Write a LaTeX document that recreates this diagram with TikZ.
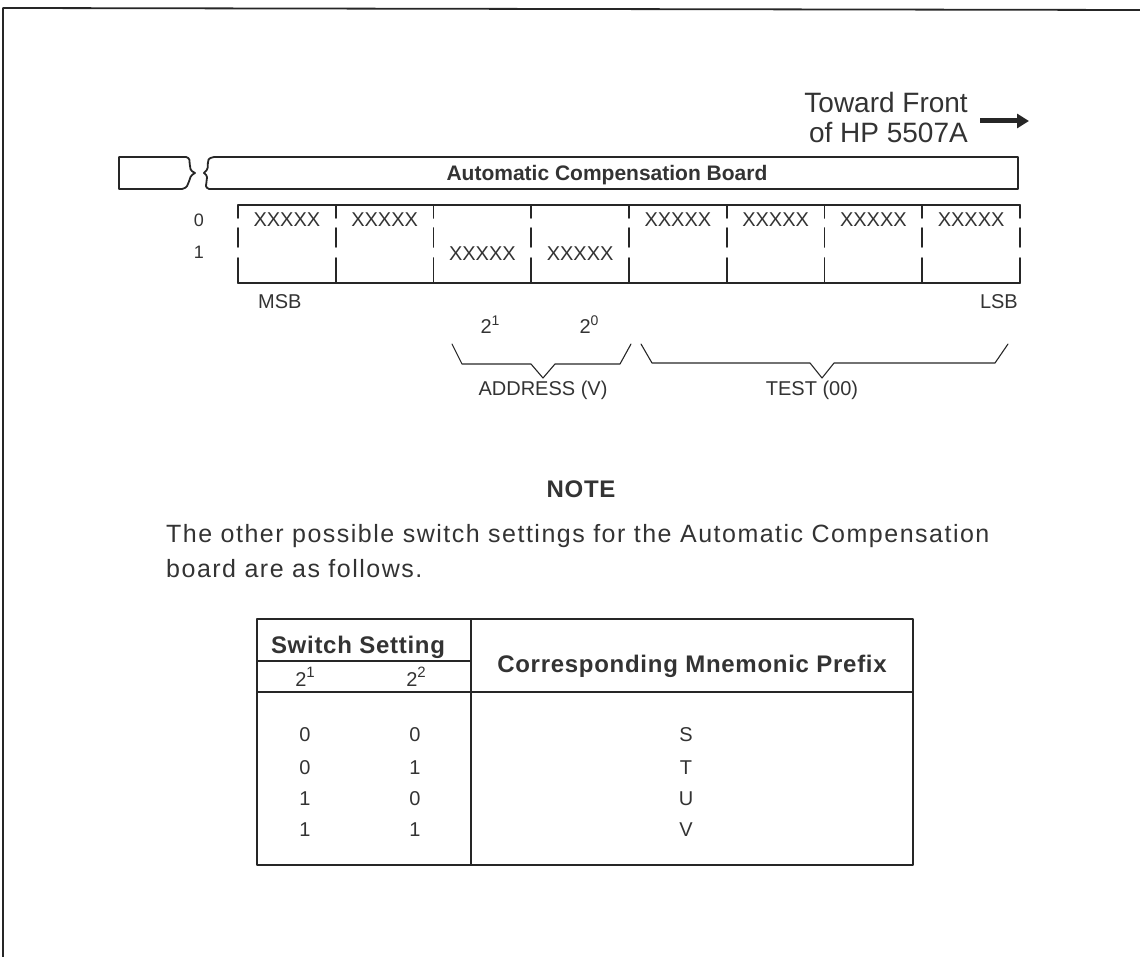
\documentclass[tikz,border=0pt]{standalone}
\usepackage{fontspec}
\setmainfont{Liberation Sans}
\newfontfamily\spacedfont[LetterSpace=6]{Liberation Sans}
\newfontfamily\spacedbold[LetterSpace=3]{Liberation Sans Bold}
\usetikzlibrary{arrows.meta}
\begin{document}
\begin{tikzpicture}[x=1pt,y=-1pt,line join=round,line cap=round,
  frame/.style={line width=1.8pt,draw=black!85},
  thinline/.style={line width=1.1pt,draw=black!85},
  txt/.style={inner sep=0pt,anchor=base,text=black!80},
  fbig/.style={font=\fontsize{28}{30}\selectfont},
  fbody/.style={font=\spacedfont\fontsize{25}{27}\selectfont},
  fmid/.style={font=\fontsize{20}{22}\selectfont},
  fsmall/.style={font=\fontsize{18}{20}\selectfont},
  fbold/.style={font=\fontsize{21}{23}\selectfont\bfseries},
  fbolder/.style={font=\spacedbold\fontsize{24}{26}\selectfont}]
\useasboundingbox (0,0) rectangle (1140,957);

% outer frame
\draw[frame] (3,957) -- (3,8) -- (1140,10);

% Toward front
\node (tf1) [txt,fbig,anchor=base east] at (968,113) {Toward Front};
\node (tf2) [txt,fbig,anchor=base east] at (968,143) {of HP 5507A};
\coordinate (arrS) at (980,121);
\coordinate (arrE) at (1029,121);
\draw[line width=5pt,line cap=butt,black!85,-{Triangle[length=12pt,width=14pt]}] (arrS) -- (arrE);

% board pieces
\draw[frame] (186,157) -- (119,157) -- (119,189) -- (182,189)
  .. controls (192,187) and (186,177) .. (195,173)
  .. controls (185,169) and (194,159) .. (186,157);
\draw[frame] (214,157) -- (1018,157) -- (1018,189) -- (209,189)
  .. controls (201,186) and (212,178) .. (204,173)
  .. controls (213,166) and (202,159) .. (214,157);
\node (board) [txt,fbold] at (607,181) {Automatic Compensation Board};

% switch block
\draw[frame] (238,205) -- (1020,205);
\draw[frame] (238,283) -- (1020,283);
\foreach \i in {0,...,8}{
  \pgfmathsetmacro\xv{238+\i*97.75}
  \draw[frame] (\xv,205) -- (\xv,218) (\xv,228) -- (\xv,247) (\xv,258) -- (\xv,283);
}
\node (r0) [txt,fsmall] at (199,227) {0};
\node (r1) [txt,fsmall] at (199,259) {1};
\foreach \i/\yy/\nm in {0/227/a,1/227/b,2/261/c,3/261/d,4/227/e,5/227/f,6/227/g,7/227/h}{
  \pgfmathsetmacro\xc{238+(\i+0.5)*97.75}
  \node (sw\nm) [txt,fmid] at (\xc,\yy) {XXXXX};
}
\node (msb) [txt,fmid,anchor=base west] at (258,309) {MSB};
\node (lsb) [txt,fmid,anchor=base east] at (1018,309) {LSB};
\node (p21) [txt,fmid] at (490,334) {2\raisebox{0.42em}{\fontsize{14}{14}\selectfont 1}};
\node (p20) [txt,fmid] at (589,334) {2\raisebox{0.42em}{\fontsize{14}{14}\selectfont 0}};

% braces
\coordinate (ba1) at (452,344);
\coordinate (ba2) at (631,344);
\coordinate (bt1) at (641,344);
\coordinate (bt2) at (1008,344);
\draw[thinline] (ba1) -- (462,364) -- (531,364) -- (543,378) -- (555,364) -- (620,364) -- (ba2);
\draw[thinline] (bt1) -- (652,363) -- (810,363) -- (822,378) -- (834,363) -- (995,363) -- (bt2);
\node (addr) [txt,fmid] at (543,395) {ADDRESS (V)};
\node (test) [txt,fmid] at (812,395) {TEST (00)};

% note
\node (note) [txt,fbolder] at (581,497) {NOTE};
\node (para1) [txt,fbody,anchor=base west] at (166,542) {The other possible switch settings for the Automatic Compensation};
\node (para2) [txt,fbody,anchor=base west] at (166,577) {board are as follows.};

% table
\draw[frame] (257,619) rectangle (913,865);
\draw[frame] (471,619) -- (471,865);
\draw[frame] (257,692) -- (913,692);
\draw[thinline] (257,661) -- (471,661);
\node (hss) [txt,fbolder] at (358,653) {Switch Setting};
\node (h21) [txt,fmid] at (305,686) {2\raisebox{0.42em}{\fontsize{15}{15}\selectfont 1}};
\node (h22) [txt,fmid] at (416,686) {2\raisebox{0.42em}{\fontsize{15}{15}\selectfont 2}};
\node (hcmp) [txt,fbolder] at (692,672) {Corresponding Mnemonic Prefix};
\foreach \a/\b/\c/\yy/\nm in {0/0/S/741/1,0/1/T/774/2,1/0/U/805/3,1/1/V/836/4}{
  \node (ca\nm) [txt,fmid] at (305,\yy) {\a};
  \node (cb\nm) [txt,fmid] at (415,\yy) {\b};
  \node (cc\nm) [txt,fmid] at (686,\yy) {\c};
}
\end{tikzpicture}
\end{document}
